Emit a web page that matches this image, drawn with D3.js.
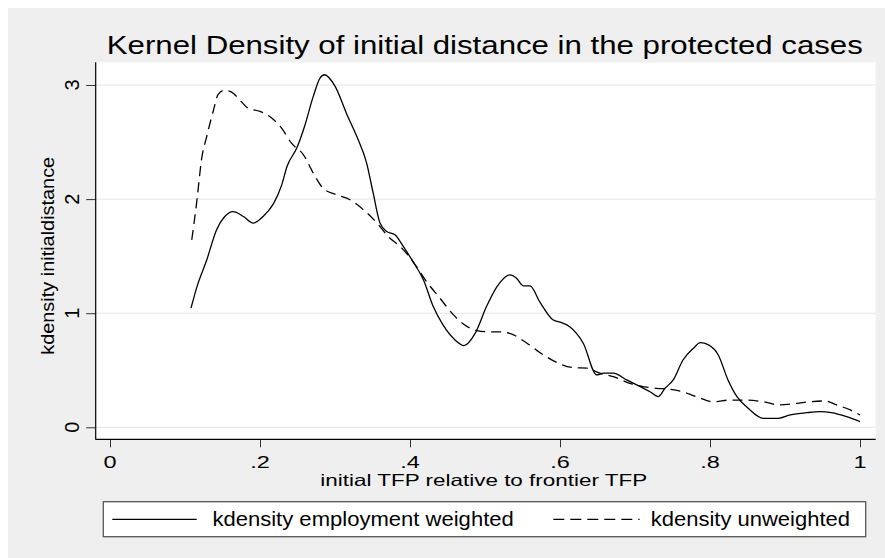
<!DOCTYPE html>
<html><head><meta charset="utf-8">
<script src="https://cdn.jsdelivr.net/npm/d3@7"></script>
<style>
html,body{margin:0;padding:0;background:#fff;}
text{font-family:"Liberation Sans",Arial,Helvetica,sans-serif;fill:#000;}
</style></head>
<body>
<script>
// ---- data ----
const titleText = "Kernel Density of initial distance in the protected cases";
const xTitle = "initial TFP relative to frontier TFP";
const yTitle = "kdensity initialdistance";
const xTicks = [0, 0.2, 0.4, 0.6, 0.8, 1];
const xTickLabels = ["0", ".2", ".4", ".6", ".8", "1"];
const yTicks = [0, 1, 2, 3];
const yTickLabels = ["0", "1", "2", "3"];
const seriesNames = ["kdensity employment weighted", "kdensity unweighted"];

const weightedX = [0.108,0.116,0.129,0.142,0.153,0.164,0.178,0.191,0.204,0.218,0.229,0.236,0.249,0.26,0.271,0.28,0.286,0.30,0.316,0.329,0.342,0.351,0.36,0.369,0.38,0.391,0.404,0.418,0.431,0.444,0.46,0.472,0.487,0.502,0.516,0.533,0.542,0.551,0.56,0.573,0.591,0.602,0.613,0.631,0.649,0.658,0.671,0.689,0.707,0.72,0.731,0.74,0.751,0.764,0.778,0.787,0.798,0.811,0.824,0.836,0.851,0.871,0.891,0.907,0.929,0.947,0.962,0.982,1.0];
const weightedY = [1.044,1.233,1.467,1.73,1.847,1.89,1.847,1.79,1.847,1.96,2.125,2.286,2.447,2.65,2.9,3.06,3.09,2.99,2.74,2.55,2.32,2.05,1.79,1.716,1.687,1.585,1.452,1.29,1.058,0.897,0.766,0.716,0.825,1.058,1.233,1.336,1.307,1.24,1.24,1.1,0.94,0.918,0.882,0.737,0.459,0.474,0.474,0.415,0.356,0.312,0.268,0.342,0.415,0.59,0.693,0.742,0.722,0.634,0.415,0.268,0.166,0.079,0.079,0.108,0.128,0.137,0.128,0.093,0.05];

const unweightedX = [0.109,0.116,0.122,0.129,0.138,0.144,0.152,0.162,0.173,0.184,0.2,0.213,0.229,0.242,0.258,0.271,0.284,0.302,0.32,0.338,0.356,0.371,0.389,0.404,0.422,0.44,0.458,0.473,0.489,0.507,0.522,0.538,0.556,0.578,0.596,0.618,0.636,0.653,0.671,0.693,0.711,0.729,0.747,0.76,0.782,0.804,0.827,0.849,0.871,0.893,0.916,0.933,0.953,0.969,0.987,1.0];
const unweightedY = [1.643,1.994,2.345,2.55,2.78,2.915,2.953,2.938,2.87,2.797,2.768,2.724,2.62,2.49,2.388,2.228,2.096,2.038,1.994,1.906,1.79,1.672,1.57,1.452,1.277,1.131,0.985,0.897,0.848,0.836,0.836,0.81,0.737,0.634,0.567,0.523,0.518,0.474,0.444,0.386,0.356,0.342,0.333,0.318,0.268,0.224,0.239,0.239,0.224,0.196,0.21,0.224,0.231,0.196,0.152,0.108];

// ---- layout ----
const W = 885, H = 558;
const plot = {left: 95.7, right: 875.7, top: 62.3, bottom: 439.3};

const svg = d3.select("body").append("svg").attr("width", W).attr("height", H);

svg.append("rect").attr("x", 8).attr("y", 8).attr("width", W - 8).attr("height", H - 8).attr("fill", "#efefef");
svg.append("rect").attr("x", plot.left).attr("y", plot.top)
  .attr("width", plot.right - plot.left).attr("height", plot.bottom - plot.top).attr("fill", "#fff");

const x = d3.scaleLinear().domain([0, 1]).range([110, 860]);
const y = d3.scaleLinear().domain([0, 3]).range([427.3, 85]);

// gridlines
svg.append("g").selectAll("line").data(yTicks).join("line")
  .attr("x1", plot.left).attr("x2", plot.right)
  .attr("y1", d => y(d)).attr("y2", d => y(d))
  .attr("stroke", "#e4e4e4").attr("stroke-width", 1);

// axes
const xAxis = svg.append("g").attr("transform", `translate(0,${plot.bottom})`)
  .call(d3.axisBottom(x).tickValues(xTicks).tickFormat((d, i) => xTickLabels[i]).tickSize(8).tickSizeOuter(0));
xAxis.select(".domain").remove();
xAxis.selectAll(".tick line").attr("stroke", "#333");
xAxis.selectAll(".tick text").remove();

const yAxis = svg.append("g").attr("transform", `translate(${plot.left},0)`)
  .call(d3.axisLeft(y).tickValues(yTicks).tickFormat((d, i) => yTickLabels[i]).tickSize(9.5).tickSizeOuter(0));
yAxis.select(".domain").remove();
yAxis.selectAll(".tick line").attr("stroke", "#333");
yAxis.selectAll(".tick text").remove();

svg.append("line").attr("x1", plot.left).attr("x2", plot.left).attr("y1", plot.top).attr("y2", plot.bottom + 0.5)
  .attr("stroke", "#000").attr("stroke-width", 1.2);
svg.append("line").attr("x1", plot.left).attr("x2", plot.right).attr("y1", plot.bottom).attr("y2", plot.bottom)
  .attr("stroke", "#000").attr("stroke-width", 1.2);

// tick labels
svg.append("g").selectAll("text").data(xTicks).join("text")
  .attr("x", d => x(d)).attr("y", 467.8)
  .attr("text-anchor", "middle").attr("font-size", 17)
  .attr("transform", d => `translate(${x(d)},0) scale(1.38,1) translate(${-x(d)},0)`)
  .text((d, i) => xTickLabels[i]);

svg.append("g").selectAll("text").data(yTicks).join("text")
  .attr("text-anchor", "middle").attr("font-size", 20)
  .attr("transform", d => `translate(78.5,${y(d)}) rotate(-90)`)
  .text((d, i) => yTickLabels[i]);

// titles
svg.append("text").attr("x", 484.8).attr("y", 54.3).attr("text-anchor", "middle")
  .attr("font-size", 25).attr("textLength", 756).attr("lengthAdjust", "spacingAndGlyphs").text(titleText);

svg.append("text").attr("x", 483.75).attr("y", 486).attr("text-anchor", "middle")
  .attr("font-size", 16.5).attr("textLength", 327).attr("lengthAdjust", "spacingAndGlyphs").text(xTitle);

svg.append("text").attr("text-anchor", "middle").attr("font-size", 18.5)
  .attr("transform", "translate(53.5,255.8) rotate(-90)")
  .attr("textLength", 198).attr("lengthAdjust", "spacingAndGlyphs").text(yTitle);

// curves
const line = d3.line().x(d => x(d[0])).y(d => y(d[1])).curve(d3.curveMonotoneX);
const wData = weightedX.map((v, i) => [v, weightedY[i]]);
const uData = unweightedX.map((v, i) => [v, unweightedY[i]]);

svg.append("path").datum(uData).attr("d", line).attr("fill", "none")
  .attr("stroke", "#000").attr("stroke-width", 1.3).attr("stroke-dasharray", "10,6");
svg.append("path").datum(wData).attr("d", line).attr("fill", "none")
  .attr("stroke", "#000").attr("stroke-width", 1.3);

// legend
svg.append("rect").attr("x", 103.3).attr("y", 501.7).attr("width", 865.7 - 103.3).attr("height", 35)
  .attr("fill", "#fff").attr("stroke", "#555").attr("stroke-width", 1.3);
svg.append("line").attr("x1", 112.3).attr("x2", 196.7).attr("y1", 519.3).attr("y2", 519.3)
  .attr("stroke", "#000").attr("stroke-width", 1.3);
svg.append("line").attr("x1", 553.3).attr("x2", 639.6).attr("y1", 519.3).attr("y2", 519.3)
  .attr("stroke", "#000").attr("stroke-width", 1.3).attr("stroke-dasharray", "11,6");
svg.append("text").attr("x", 212.4).attr("y", 526.3).attr("font-size", 20.5)
  .attr("textLength", 301.4).attr("lengthAdjust", "spacingAndGlyphs").text(seriesNames[0]);
svg.append("text").attr("x", 650.8).attr("y", 526.3).attr("font-size", 20.5)
  .attr("textLength", 199.2).attr("lengthAdjust", "spacingAndGlyphs").text(seriesNames[1]);
</script>
</body></html>
